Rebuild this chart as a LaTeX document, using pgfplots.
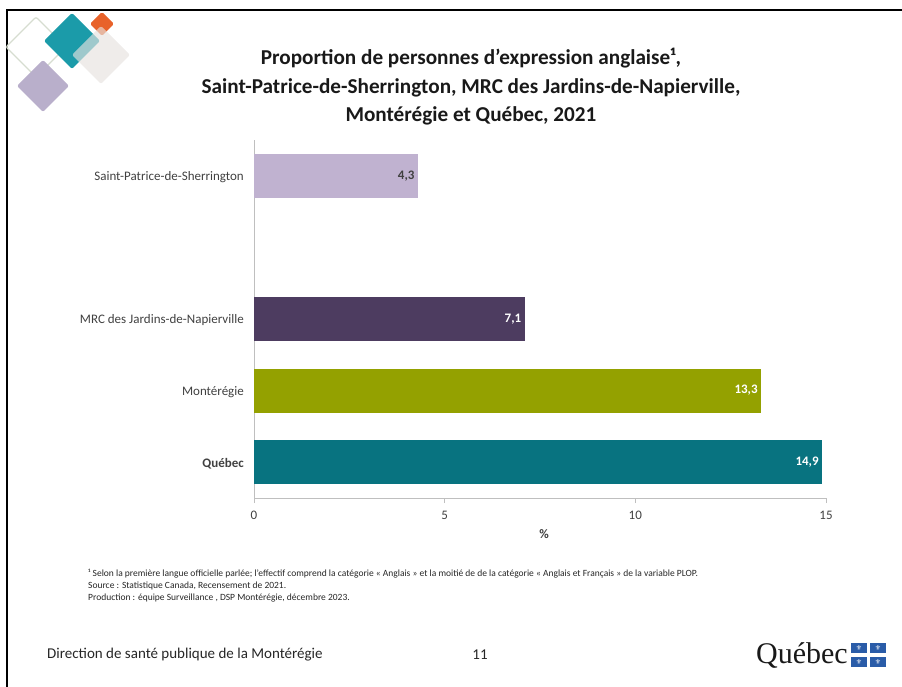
\documentclass[border=0pt]{standalone}
\usepackage{fontspec}
\setmainfont{Carlito}
\newfontfamily\qcfont{Liberation Serif}
\newfontfamily\djv{DejaVu Sans}
\usepackage{pgfplots}
\pgfplotsset{compat=1.18}
\definecolor{cQC}{HTML}{087380}
\definecolor{cMO}{HTML}{94A100}
\definecolor{cMRC}{HTML}{4D3C60}
\definecolor{cSP}{HTML}{C0B2D0}
\definecolor{axgray}{HTML}{BFBFBF}
\definecolor{txt}{HTML}{404040}
\definecolor{lteal}{HTML}{1B9BA9}
\definecolor{lorange}{HTML}{E8622A}
\definecolor{lpurple}{HTML}{B9AFCB}
\definecolor{llight}{HTML}{E6E2DF}
\definecolor{loutline}{HTML}{D6DDD0}
\definecolor{qblue}{HTML}{2A5CA8}
\newcommand{\dia}[3]{(#1-#3,#2) -- (#1,#2+#3) -- (#1+#3,#2) -- (#1,#2-#3) -- cycle}
\begin{document}
\begin{tikzpicture}
\begin{scope}[x=1pt,y=1pt]
\path[use as bounding box] (0,0) rectangle (902,686);
% frame
\draw[line width=2.5pt, black] (7,-5) -- (7,676) -- (910,676);
% logo
\draw[loutline, line width=1.2pt, rounded corners=2pt] \dia{36}{639}{30};
\fill[lpurple, rounded corners=2pt] \dia{43}{600}{26};
\fill[lteal, rounded corners=2pt] \dia{72}{645}{28};
\fill[lorange, rounded corners=1.5pt] \dia{102}{662}{12};
\fill[llight, fill opacity=0.65, rounded corners=2pt] \dia{101}{631}{29};
% title
\node[align=center, text=black!90, font=\fontsize{21.2}{28.5}\selectfont\bfseries] at (471,599)
 {Proportion de personnes d'expression anglaise¹,\\Saint-Patrice-de-Sherrington, MRC des Jardins-de-Napierville,\\Montérégie et Québec, 2021};
% footnotes
\begin{scope}[every node/.style={anchor=west, inner sep=0pt, text=black!85, font=\fontsize{9.5}{10}\selectfont}]
\node at (88,112) {¹ Selon la première langue officielle parlée; l'effectif comprend la catégorie « Anglais » et la moitié de de la catégorie « Anglais et Français » de la variable PLOP.};
\node at (88,100) {Source : Statistique Canada, Recensement de 2021.};
\node at (88,88) {Production : équipe Surveillance , DSP Montérégie, décembre 2023.};
\end{scope}
% footer
\node[anchor=west, inner sep=0pt, text=black!85, font=\fontsize{15}{17}\selectfont] at (47,31) {Direction de santé publique de la Montérégie};
\node[inner sep=0pt, text=black!85, font=\fontsize{15}{17}\selectfont] at (480,31) {11};
\node[anchor=east, inner sep=0pt, text=black!90, font=\qcfont\fontsize{30}{32}\selectfont] at (848,31) {Québec};
\foreach \xx in {851,870} \foreach \yy in {19,33} {
  \fill[qblue] (\xx,\yy) rectangle ++(16,10);
  \node[text=white, inner sep=0pt, font=\djv\fontsize{7}{7}\selectfont] at (\xx+8,\yy+5) {⚜};
}
\end{scope}
\begin{axis}[
  at={(254pt,188pt)}, anchor=south west,
  scale only axis, width=572pt, height=358pt,
  xmin=0, xmax=15, ymin=-0.5, ymax=4.5,
  xbar, bar width=44pt,
  axis x line*=bottom, axis y line*=left,
  axis line style={draw=axgray, line width=0.8pt},
  xtick={0,5,10,15}, xticklabels={0,5,10,15},
  tick align=outside, major tick length=5pt,
  xtick style={draw=axgray, line width=0.8pt},
  ytick={0,1,2,4},
  yticklabels={\textbf{Québec},Montérégie,MRC des Jardins-de-Napierville,Saint-Patrice-de-Sherrington},
  ytick style={draw=none},
  tick label style={font=\fontsize{13}{15}\selectfont, text=txt},
  yticklabel style={inner sep=0pt, xshift=-5pt, yshift=-1.5pt},
  xticklabel style={yshift=-5pt},
  xlabel={\textbf{\%}}, xlabel style={font=\fontsize{13}{15}\selectfont, text=txt, yshift=-3pt, xshift=4pt},
  /pgf/number format/.cd, assume math mode=true, use comma, fixed, fixed zerofill, precision=1,
  /pgfplots/.cd,
  nodes near coords,
  nodes near coords style={anchor=east, font=\fontsize{13}{15}\selectfont\bfseries},
]
\addplot[fill=cQC, draw=none, bar shift=0pt, every node near coord/.append style={text=white}] coordinates {(14.9,0)};
\addplot[fill=cMO, draw=none, bar shift=0pt, every node near coord/.append style={text=white}] coordinates {(13.3,1)};
\addplot[fill=cMRC, draw=none, bar shift=0pt, every node near coord/.append style={text=white}] coordinates {(7.1,2)};
\addplot[fill=cSP, draw=none, bar shift=0pt, every node near coord/.append style={text=txt}] coordinates {(4.3,4)};
\end{axis}
\end{tikzpicture}
\end{document}
